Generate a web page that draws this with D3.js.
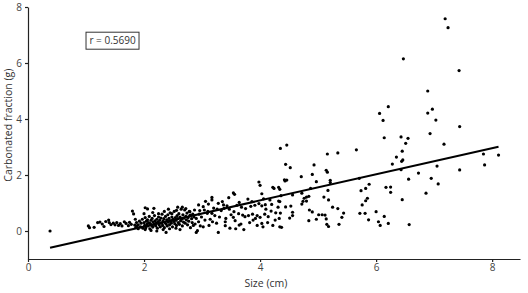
<!DOCTYPE html>
<html>
<head>
<meta charset="utf-8">
<script src="https://cdn.jsdelivr.net/npm/d3@7"></script>
<style>
  body { margin: 0; background: #fff; }
  svg { display: block; }
  .axis path, .axis line { stroke: #222; stroke-width: 1.2; }
  .axis text { fill: #444; font-family: "Open Sans", sans-serif; font-size: 10px; }
  .title { fill: #333; font-family: "Open Sans", sans-serif; font-size: 10.5px; }
</style>
</head>
<body>
<div id="chart"></div>
<script>
var w = 528, h = 293;

// size (cm) vs carbonated fraction (g)
var smallShells = [
  [0.38,0.00],[1.04,0.18],[1.06,0.12],[1.14,0.13],[1.20,0.30],[1.24,0.32],[1.28,0.25],[1.31,0.16],
  [1.34,0.34],[1.39,0.39],[1.40,0.30],[1.43,0.23],[1.47,0.28],[1.50,0.22],[1.53,0.30],[1.56,0.20],
  [1.59,0.26],[1.62,0.18],[1.66,0.33],[1.69,0.27],[1.73,0.19],[1.75,0.31],[1.78,0.24],[1.80,0.71],
  [1.82,0.61],[1.84,0.21],[1.86,0.13],[1.88,0.18],[1.90,0.08],[2.02,0.83],[2.06,0.79],[2.17,0.81]
];

var denseShells = [
  [1.90,0.22],[1.92,0.35],[1.94,0.15],[1.95,0.28],[1.97,0.42],[1.98,0.10],[2.00,0.30],[2.01,0.20],
  [2.02,0.48],[2.03,0.12],[2.04,0.35],[2.05,0.25],[2.06,0.40],[2.07,0.18],[2.08,0.30],[2.09,0.52],
  [2.10,0.08],[2.11,0.26],[2.12,0.38],[2.13,0.20],[2.14,0.45],[2.15,0.14],[2.16,0.32],[2.17,0.24],
  [2.18,0.55],[2.19,0.36],[2.20,0.18],[2.21,0.28],[2.22,0.42],[2.23,0.10],[2.24,0.33],[2.25,0.50],
  [2.26,0.22],[2.27,0.38],[2.28,0.15],[2.29,0.46],[2.30,0.28],[2.31,0.60],[2.32,0.20],[2.33,0.35],
  [2.34,0.44],[2.35,0.12],[2.36,0.30],[2.37,0.52],[2.38,0.25],[2.39,0.40],[2.40,0.18],[2.41,0.58],
  [2.42,0.32],[2.43,0.45],[2.44,0.22],[2.45,0.65],[2.46,0.36],[2.47,0.28],[2.48,0.50],[2.49,0.15],
  [2.50,0.42],[2.51,0.34],[2.52,0.70],[2.53,0.26],[2.54,0.48],[2.55,0.38],[2.56,0.20],[2.57,0.55],
  [2.58,0.44],[2.59,0.30],[2.60,0.62],[2.61,0.24],[2.62,0.50],[2.63,0.36],[2.64,0.78],[2.65,0.42],
  [2.66,0.18],[2.67,0.58],[2.68,0.32],[2.69,0.46],[2.70,0.75],[2.71,0.28],[2.72,0.52],[2.73,0.40],
  [2.74,0.64],[2.75,0.22],[2.76,0.48],[2.77,0.35],[2.78,0.70],[2.79,0.55],[2.80,0.12],[2.82,0.44],
  [2.83,0.30],[2.84,0.60],[2.85,0.20],[2.86,0.50],[2.02,0.05],[2.12,0.02],[2.22,0.00],[2.33,0.05],
  [2.44,0.08],[2.55,0.10],[2.38,-0.05],[2.62,0.05],[2.48,0.62],[2.25,0.62],[2.35,0.70],[2.56,0.74],
  [1.87,0.30],[1.85,0.42],[2.00,0.62],[2.15,0.66],[2.66,0.85],[2.72,0.80],[2.58,0.85],[2.42,0.78],
  [2.88,0.25],[2.90,0.45],[2.92,0.01],[2.94,0.33],[2.95,0.60],[2.97,0.18],[2.99,0.50],[3.02,0.15]
];

var midShells = [
  [3.98,1.75],[4.00,1.63],[4.24,1.52],[4.03,1.33],[3.54,1.36],[3.56,1.31],[3.46,1.19],[3.17,1.20],
  [3.17,1.11],[3.79,1.14],[4.17,1.11],[4.32,1.07],[3.06,1.06],[3.11,0.96],[3.28,0.99],[3.37,0.93],
  [3.43,0.90],[3.91,0.92],[3.98,0.98],[4.03,0.90],[4.09,0.94],[4.31,0.85],[4.19,0.71],[4.27,0.65],
  [2.94,0.93],[3.02,0.87],[2.87,0.75],[2.96,0.73],[3.04,0.75],[3.09,0.63],[3.17,0.63],[2.79,0.69],
  [2.80,0.57],[3.33,0.73],[3.38,0.81],[3.47,0.78],[3.55,0.69],[3.63,0.62],[3.70,0.57],[3.74,0.51],
  [3.80,0.55],[3.87,0.60],[3.95,0.55],[4.00,0.49],[4.08,0.60],[4.14,0.51],[4.26,0.39],[4.33,0.45],
  [3.05,0.39],[3.14,0.42],[3.18,0.33],[3.41,0.45],[3.40,0.33],[3.54,0.49],[3.57,0.37],[3.64,0.21],
  [3.67,0.25],[3.88,0.39],[4.03,0.27],[4.13,0.30],[4.05,0.15],[3.40,0.19],[4.34,0.15],[3.22,0.55],
  [3.25,0.28],[3.30,0.50],[3.50,0.58],[3.60,0.92],[3.68,0.85],[3.75,0.80],[3.84,0.88],[3.92,0.45],
  [4.10,0.78],[4.20,0.95],[3.20,0.82],[3.12,0.20],[3.48,0.10],[3.72,0.05],[3.95,0.20],[4.22,0.20],
  [3.10,0.70],[3.26,0.78],[3.58,0.08],[3.82,0.30],[3.35,1.05],[3.64,1.02],[3.86,1.05],[4.06,1.15],
  [3.28,-0.05],[2.90,-0.05],[4.22,1.56],[4.32,1.56],[4.43,1.79],[4.46,1.82]
];

var largeShells = [
  [4.46,3.07],[4.35,2.95],[5.16,2.75],[5.34,2.79],[5.66,2.90],[4.44,2.38],[4.52,2.26],[4.93,2.36],
  [4.42,1.83],[4.71,1.94],[4.90,2.02],[5.14,2.17],[5.16,2.10],[4.97,1.76],[5.21,1.81],[5.21,1.73],
  [4.34,1.49],[4.36,1.26],[4.56,1.29],[4.72,1.35],[4.87,1.52],[5.17,1.45],[4.76,1.17],[4.80,1.21],
  [4.84,1.24],[4.74,1.06],[4.80,1.07],[4.72,0.96],[4.34,1.05],[4.44,0.86],[4.53,0.89],[4.35,0.64],
  [4.56,0.67],[4.56,0.55],[4.51,0.46],[4.37,0.13],[4.85,0.75],[4.90,0.68],[4.84,0.37],[4.97,0.42],
  [5.01,0.58],[5.07,0.58],[5.12,0.57],[5.14,0.43],[5.10,1.21],[5.18,1.11],[5.25,0.85],[5.34,0.80],
  [5.44,0.64],[5.41,0.49],[5.15,0.24],[5.18,0.16],[5.36,0.24],
  [5.71,1.88],[5.74,1.44],[5.82,1.52],[5.88,1.67],[5.76,0.93],[5.82,1.08],[5.85,1.17],[5.72,0.63],
  [5.81,0.63],[5.87,0.40],[6.00,0.69],[6.14,0.52],[6.04,0.33],[6.07,0.20],[6.21,0.27],[6.57,0.23],
  [6.45,2.85],[6.35,2.64],[6.46,2.54],[6.44,2.49],[6.28,2.39],[6.43,2.19],[7.85,2.75],[8.11,2.71],
  [7.87,2.36],[7.05,2.32],[7.44,2.18],[6.73,2.07],[6.56,1.85],[6.95,1.88],[7.07,1.68],[6.17,1.56],
  [6.25,1.57],[6.25,1.38],[6.86,1.35],[6.45,1.12],
  [7.19,7.58],[7.24,7.26],[6.47,6.15],[7.43,5.73],[6.89,5.00],[6.21,4.44],[6.06,4.20],[6.12,3.95],
  [6.97,4.35],[6.89,4.21],[7.03,3.96],[7.44,3.73],[6.14,3.33],[6.43,3.36],[6.55,3.31],[6.51,3.13],
  [6.93,3.48],[7.17,3.10]
];

var xTicks = [0, 2, 4, 6, 8];
var yTicks = [0, 2, 4, 6, 8];
var slope = 0.467, intercept = -0.777; // fitted line
var rLabel = 'r = 0.5690';

var points = smallShells.concat(denseShells, midShells, largeShells);

var svg = d3.select('#chart').append('svg')
  .attr('width', w).attr('height', h);

var x = d3.scaleLinear().domain([0, 8.48]).range([28, 520]);
var y = d3.scaleLinear().domain([-1, 8]).range([259, 7]);

svg.append('g')
  .attr('class', 'axis')
  .attr('transform', 'translate(0,' + y(-1) + ')')
  .call(d3.axisBottom(x).tickValues(xTicks).tickSize(3).tickSizeOuter(0).tickPadding(2));

svg.append('g')
  .attr('class', 'axis')
  .attr('transform', 'translate(' + x(0) + ',0)')
  .call(d3.axisLeft(y).tickValues(yTicks).tickSize(3).tickSizeOuter(0).tickPadding(3));

// points
svg.append('g').selectAll('circle')
  .data(points)
  .enter().append('circle')
  .attr('cx', function (d) { return x(d[0]); })
  .attr('cy', function (d) { return y(d[1]); })
  .attr('r', 1.6)
  .attr('fill', '#000');

// regression line over data range
var xExt = d3.extent(points, function (d) { return d[0]; });
svg.append('line')
  .attr('x1', x(xExt[0])).attr('y1', y(slope * xExt[0] + intercept))
  .attr('x2', x(xExt[1])).attr('y2', y(slope * xExt[1] + intercept))
  .attr('stroke', '#000').attr('stroke-width', 2);

// r label box
var box = svg.append('g').attr('transform', 'translate(' + x(1.0) + ',' + y(7.1) + ')');
box.append('rect')
  .attr('width', 53).attr('height', 17)
  .attr('fill', '#fff').attr('stroke', '#333').attr('stroke-width', 1);
box.append('text')
  .attr('x', 26.5).attr('y', 12)
  .attr('text-anchor', 'middle')
  .attr('class', 'title')
  .style('font-size', '10px')
  .text(rLabel);

// axis titles
svg.append('text')
  .attr('class', 'title')
  .attr('x', x(4.1)).attr('y', 287)
  .attr('text-anchor', 'middle')
  .text('Size (cm)');

svg.append('text')
  .attr('class', 'title')
  .attr('transform', 'translate(12,' + y(3.78) + ') rotate(-90)')
  .attr('text-anchor', 'middle')
  .text('Carbonated fraction (g)');
</script>
</body>
</html>
